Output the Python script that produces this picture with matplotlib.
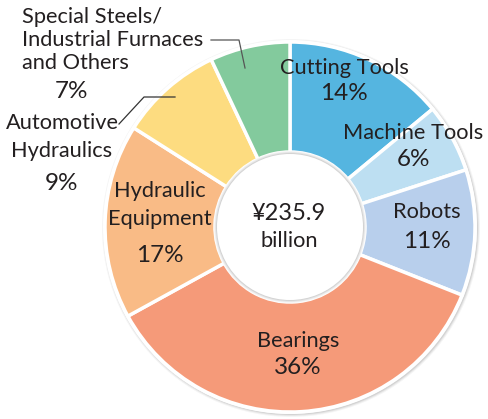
import matplotlib
matplotlib.use("Agg")
import matplotlib.pyplot as plt
from matplotlib.patches import Circle

categories = ["Cutting Tools", "Machine Tools", "Robots", "Bearings",
              "Hydraulic Equipment", "Automotive Hydraulics",
              "Special Steels/Industrial Furnaces and Others"]
shares = [14, 6, 11, 36, 17, 9, 7]
colors = ["#55B5E0", "#BDDFF2", "#B8CFEC", "#F59A79", "#F9BB86", "#FDDC80", "#83CA9D"]
total_label = ["¥235.9", "billion"]

W, H = 488, 419
fig = plt.figure(figsize=(W / 100, H / 100), dpi=100)
ax = fig.add_axes([0, 0, 1, 1])
ax.set_xlim(0, W)
ax.set_ylim(0, H)
ax.set_aspect("equal")
ax.axis("off")

FONT = "Lato"
TC = "#231f20"
FS = 15.7
PS = 17.5

cx, cy = 290, H - 227
R = 185
r_in = 75

# soft shadow behind the ring
for i, a in enumerate([0.04, 0.06, 0.08]):
    ax.add_patch(Circle((cx + 1, cy - 1), R + 4 - i, color="#000000", alpha=a, lw=0, zorder=0))
ax.add_patch(Circle((cx, cy), R + 2, color="white", lw=0, zorder=1))

wedges, _ = ax.pie(shares, colors=colors, startangle=90, counterclock=False,
                   center=(cx, cy), radius=R,
                   wedgeprops=dict(width=R - r_in, edgecolor="white", linewidth=2.5),
                   frame=True)
for w in wedges:
    w.set_zorder(2)
ax.set_xlim(0, W)
ax.set_ylim(0, H)
ax.axis("off")

# inner hole with faint shadow
for i, a in enumerate([0.04, 0.06, 0.08]):
    ax.add_patch(Circle((cx, cy), r_in + 1 - i, color="#000000", alpha=a, lw=0, zorder=3))
ax.add_patch(Circle((cx, cy), r_in - 2, color="white", lw=0, zorder=4))


def txt(x, y, s, ha="center", size=FS):
    ax.text(x, H - y, s, ha=ha, va="center", fontsize=size, family=FONT, color=TC, zorder=6)


# inside labels
txt(344, 68, categories[0])
txt(344, 94, f"{shares[0]}%", size=PS)
txt(413, 133, categories[1])
txt(413, 159, f"{shares[1]}%", size=PS)
txt(427, 212, categories[2])
txt(427, 241, f"{shares[2]}%", size=PS)
txt(298, 341, categories[3])
txt(298, 368, f"{shares[3]}%", size=PS)
txt(160, 191, "Hydraulic")
txt(160, 219, "Equipment")
txt(160, 255, f"{shares[4]}%", size=PS)
txt(289, 214, total_label[0], size=17)
txt(289, 241, total_label[1])

# outside labels
txt(62, 123, "Automotive")
txt(62, 151, "Hydraulics")
txt(62, 184, f"{shares[5]}%", size=PS)
txt(22, 17, "Special Steels/", ha="left")
txt(22, 40, "Industrial Furnaces", ha="left")
txt(22, 63, "and Others", ha="left")
txt(72, 92, f"{shares[6]}%", size=PS)

# leader lines
ax.plot([211, 239, 245], [H - 40, H - 40, H - 68], color="#555555", lw=0.9, zorder=7)
ax.plot([119, 144, 175], [H - 124, H - 97, H - 97], color="#333333", lw=0.9, zorder=7)

fig.savefig("out.png", dpi=100)
